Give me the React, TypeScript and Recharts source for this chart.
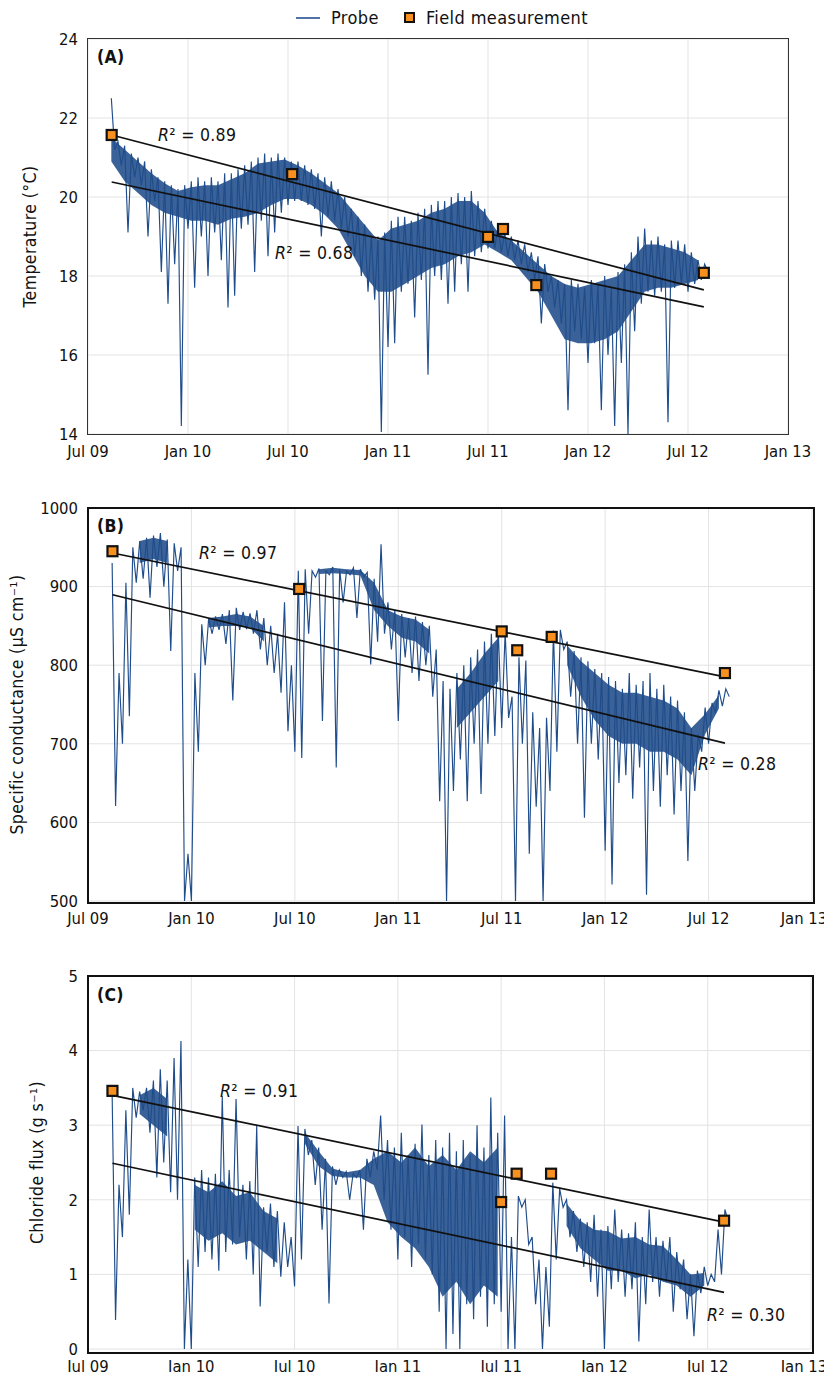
import React from "react";
import {
  ComposedChart,
  Line,
  Area,
  Scatter,
  XAxis,
  YAxis,
  CartesianGrid,
  ReferenceLine,
} from "recharts";

const FONT = "'Liberation Sans Narrow', 'DejaVu Sans Condensed', 'Arial Narrow', sans-serif";
const BLUE = "#1f4c8a";
const ORANGE = "#f7901e";

// x axis is months since Jul 2009
const monthTicks = [0, 6, 12, 18, 24, 30, 36, 42];
const monthLabels = ["Jul 09", "Jan 10", "Jul 10", "Jan 11", "Jul 11", "Jan 12", "Jul 12", "Jan 13"];

const probeStart = 1.4;
const probeStep = 0.4;
// dense core of the probe band, every 0.8 month (null = no band there)
const coreStart = 1.4;
const coreStep = 0.8;

const tempHi = [
  22.5, 21.4, 21.3, 21.1, 21.0, 20.9, 20.7, 20.5, 20.4, 20.3,
  20.2, 20.3, 20.4, 20.5, 20.4, 20.5, 20.4, 20.6, 20.6, 20.7,
  20.8, 20.9, 21.0, 21.1, 21.0, 21.1, 21.0, 20.9, 20.9, 20.8,
  20.7, 20.6, 20.5, 20.4, 20.2, 20.0, 19.7, 19.5, 19.3, 19.0,
  19.0, 19.1, 19.4, 19.5, 19.5, 19.4, 19.6, 19.7, 19.8, 19.9,
  19.9, 20.0, 20.1, 20.0, 20.15, 19.9, 19.7, 19.4, 19.25, 19.1,
  19.0, 18.9, 18.8, 18.6, 18.5, 18.3, 18.0, 17.9, 17.8, 17.9,
  17.8, 17.7, 17.9, 17.8, 18.0, 17.7, 18.1, 18.3, 18.6, 19.0,
  19.2, 18.9, 19.0, 18.8, 18.9, 18.9, 18.8, 18.6, 18.4, 18.3,
];
const tempLo = [
  21.2, 20.8, 19.1, 20.5, 20.3, 19.0, 19.9, 18.1, 17.3, 18.3,
  14.2, 19.2, 17.7, 19.0, 18.0, 19.1, 18.4, 17.2, 17.5, 19.2,
  19.3, 18.1, 19.4, 18.5, 19.1, 19.6, 19.8, 19.9, 19.9, 19.8,
  19.7, 19.0, 19.5, 19.4, 19.2, 19.0, 18.5, 18.0, 17.6, 17.4,
  14.05, 16.2, 16.3, 17.6, 17.8, 16.95, 17.9, 15.5, 18.0, 17.9,
  17.3, 17.6, 18.3, 17.6, 18.5, 18.6, 18.7, 18.7, 18.6, 18.5,
  18.4, 18.3, 18.1, 17.9, 16.8, 17.6, 17.2, 16.8, 14.6, 16.6,
  16.4, 15.8, 16.3, 14.6, 16.0, 14.2, 15.8, 14.0, 16.6, 17.3,
  17.6, 17.5, 17.6, 14.3, 17.7, 17.8, 17.6, 17.8, 17.9, 18.1,
];
const tempCoreHi = [
  21.5, 21.2, 20.9, 20.6, 20.35, 20.15, 20.25, 20.3, 20.3, 20.45,
  20.6, 20.85, 20.9, 20.95, 20.8, 20.6, 20.35, 20.1, 19.7, 19.3,
  18.9, 19.2, 19.3, 19.4, 19.6, 19.7, 19.9, 19.9, 19.6, 19.1,
  18.9, 18.6, 18.3, 18.0, 17.8, 17.7, 17.8, 17.9, 18.0, 18.4,
  18.8, 18.8, 18.7, 18.6, 18.4,
];
const tempCoreLo = [
  20.9, 20.4, 20.1, 19.8, 19.6, 19.5, 19.4, 19.4, 19.3, 19.45,
  19.5, 19.6, 19.8, 19.95, 19.95, 19.8, 19.55, 19.2, 18.6, 18.0,
  17.6, 17.6, 17.8, 18.0, 18.2, 18.3, 18.5, 18.6, 18.8, 18.6,
  18.4, 18.0, 17.6, 17.0, 16.4, 16.3, 16.3, 16.4, 16.6, 17.1,
  17.6, 17.7, 17.7, 17.8, 17.9,
];

const condHi = [
  930, 790, 905, 950, 958, 962, 965, 968, 960, 955,
  950, 560, 790, 852, 860, 862, 865, 870, 873, 868,
  866, 870, 860, 850, 840, 880, 800, 920, 922, 920,
  923, 920, 925, 922, 920, 924, 922, 918, 910, 954,
  880, 870, 865, 860, 862, 855, 850, 820, 780, 770,
  790, 800, 810, 820, 830, 840, 845, 843, 760, 810,
  806, 740, 720, 733, 844, 845, 830, 818, 810, 805,
  795, 790, 785, 780, 770, 790, 775, 780, 790, 770,
  775, 760, 755, 740, 720, 712, 746, 752, 768, 770,
];
const condLo = [
  621, 700, 735, 905, 910, 886, 925, 900, 818, 920,
  500, 500, 690, 800, 840, 845, 827, 755, 845, 846,
  840, 820, 800, 790, 765, 716, 690, 682, 840, 912,
  729, 915, 670, 880, 915, 860, 912, 801, 830, 840,
  820, 729, 810, 790, 780, 800, 760, 627, 500, 640,
  680, 627, 700, 636, 700, 710, 720, 733, 500, 700,
  560, 620, 500, 640, 690, 820, 760, 700, 606, 700,
  680, 564, 521, 650, 660, 630, 670, 508, 640, 620,
  660, 610, 640, 551, 640, 690, 700, 740, 748, 760,
];
const condCoreHi = [
  null, null, 958, 962, 958, null, null, 860, 862, 865,
  862, 850, null, null, null, 922, 924, 922, 921, 905,
  870, 862, 858, 845, null, 770, 790, 815, 835, null,
  null, null, null, 825, 805, 790, 775, 765, 765, 760,
  755, 745, 720, 738, 762,
];
const condCoreLo = [
  null, null, 930, 935, 930, null, null, 848, 850, 850,
  848, 830, null, null, null, 916, 917, 916, 914, 870,
  850, 835, 830, 815, null, 720, 740, 760, 780, null,
  null, null, null, 800, 760, 730, 710, 700, 700, 690,
  690, 680, 660, 712, 745,
];

const fluxHi = [
  3.45, 2.2, 3.2, 3.5, 3.45, 3.5, 3.6, 3.75, 3.6, 3.9,
  4.13, 1.2, 2.3, 2.4, 2.3, 2.35, 3.39, 2.4, 3.35, 2.2,
  2.25, 2.99, 1.9, 1.95, 1.85, 1.7, 1.5, 2.99, 2.95, 2.8,
  2.7, 2.55, 2.45, 2.4, 2.38, 2.35, 2.4, 2.55, 2.65, 3.13,
  2.8, 2.7, 2.9, 2.6, 2.75, 3.01, 2.6, 2.8, 2.7, 2.9,
  2.65, 2.8, 2.6, 3.0, 2.7, 3.37, 2.9, 3.13, 1.5, 2.05,
  2.0, 1.5, 1.2, 1.1, 2.23, 2.15, 2.0, 1.85, 1.75, 1.7,
  1.8, 1.6, 1.65, 1.87, 1.6, 1.55, 1.7, 1.5, 1.87, 1.5,
  1.45, 1.5, 1.3, 1.2, 1.0, 1.05, 1.1, 1.0, 1.6, 1.87,
];
const fluxLo = [
  0.39, 1.5, 1.8, 3.1, 3.2, 2.9, 2.3, 2.5, 2.1, 2.0,
  0.0, 0.0, 1.1, 1.3, 1.2, 1.05, 1.3, 1.4, 1.5, 1.2,
  1.0, 0.57, 1.3, 1.1, 0.97, 1.1, 0.84, 1.2, 2.6, 2.2,
  1.6, 0.61, 2.2, 2.3, 2.0, 2.3, 1.6, 2.3, 2.4, 2.0,
  1.6, 1.2, 1.5, 1.1, 1.4, 1.2, 1.0, 0.5, 0.0, 0.2,
  0.0, 0.6, 0.4, 0.7, 0.3, 0.6, 0.5, 0.0, 0.0, 1.9,
  1.4, 0.6, 0.0, 0.3, 1.2, 1.9, 1.5, 1.3, 1.1, 0.9,
  0.7, 0.0, 0.8, 0.9, 0.7, 0.8, 0.1, 0.6, 0.9, 0.7,
  0.9, 0.5, 0.8, 0.4, 0.17, 0.75, 0.85, 0.9, 1.0, 1.7,
];
const fluxCoreHi = [
  null, null, 3.4, 3.5, 3.35, null, 2.2, 2.1, 2.25, 2.05,
  2.1, 1.85, 1.75, null, 2.9, 2.65, 2.42, 2.37, 2.4, 2.55,
  2.65, 2.5, 2.7, 2.45, 2.6, 2.4, 2.65, 2.5, 2.7, null,
  null, null, null, 1.95, 1.72, 1.6, 1.58, 1.48, 1.5, 1.4,
  1.38, 1.2, 1.0, 1.02, null,
];
const fluxCoreLo = [
  null, null, 3.15, 3.0, 2.85, null, 1.6, 1.45, 1.55, 1.4,
  1.45, 1.3, 1.15, null, 2.75, 2.45, 2.32, 2.3, 2.3, 2.2,
  1.7, 1.5, 1.35, 1.1, 0.7, 0.9, 0.6, 0.85, 0.7, null,
  null, null, null, 1.65, 1.35, 1.2, 1.05, 1.05, 0.95, 1.0,
  0.9, 0.85, 0.7, 0.85, null,
];

// field measurements
const fieldMonths = [1.42, 12.25, 24.0, 24.9, 26.9, 36.95];
const fieldTemp = [21.57, 20.58, 18.99, 19.19, 17.77, 18.08];
const fieldCond = [945, 897, 843, 819, 836, 790];
const fieldFlux = [3.46, null, 1.97, 2.35, 2.35, 1.72];

// linear trend end points (field fit, probe fit)
const trendMonths = [1.42, 36.95];
const tempFieldTrend = [21.57, 17.65];
const tempProbeTrend = [20.38, 17.22];
const condFieldTrend = [942.7, 785.2];
const condProbeTrend = [889.6, 700.8];
const fluxFieldTrend = [3.4, 1.7];
const fluxProbeTrend = [2.49, 0.76];

function probeRows(hi: number[], lo: number[]) {
  return hi.flatMap((h, i) => [
    { t: probeStart + i * probeStep, v: h },
    { t: probeStart + i * probeStep + probeStep / 2, v: lo[i] },
  ]);
}

function coreRows(hi: (number | null)[], lo: (number | null)[]) {
  return hi.map((h, i) => ({ t: coreStart + i * coreStep, hi: h, lo: lo[i] }));
}

function fieldRows(vals: (number | null)[]) {
  return fieldMonths
    .map((t, i) => ({ t, v: vals[i] }))
    .filter((d) => d.v != null);
}

const FieldSquare = (props: any) => {
  const { cx, cy } = props;
  if (cx == null || cy == null) return null;
  return (
    <rect x={cx - 5} y={cy - 5} width={10} height={10} fill={ORANGE} stroke="#111" strokeWidth={2.2} />
  );
};

const tickStyle = { fontFamily: FONT, fontSize: 16.5, fill: "#111" };

// x tick that keeps the last label inside the page
const MonthTick = (props: any) => {
  const { x, y, payload } = props;
  const label = monthLabels[monthTicks.indexOf(payload.value)];
  const cx = Math.min(x, 830 - 26);
  return (
    <text x={cx} y={y} dy="0.71em" textAnchor="middle" {...tickStyle}>
      {label}
    </text>
  );
};

function Panel({
  top, height, margin, hi, lo, coreHi, coreLo, domain, yTicks, field, fieldTrend, probeTrend, ylabel, labelX,
}: any) {
  const seg = (vals: number[]) => [
    { x: trendMonths[0], y: vals[0] },
    { x: trendMonths[1], y: vals[1] },
  ];
  return (
    <div style={{ position: "absolute", left: 0, top }}>
      <ComposedChart width={832} height={height} margin={margin}>
        <CartesianGrid stroke="#e3e3e3" strokeWidth={1} />
        <XAxis
          dataKey="t"
          type="number"
          domain={[0, 42]}
          ticks={monthTicks}
          interval={0}
          tick={<MonthTick />}
          tickLine={false}
          axisLine={false}
          tickSize={4}
          tickMargin={7}
          height={30}
          allowDataOverflow
        />
        <YAxis
          type="number"
          domain={domain}
          ticks={yTicks}
          interval={0}
          tick={tickStyle}
          tickLine={false}
          axisLine={false}
          tickSize={4}
          tickMargin={6}
          width={88}
          allowDataOverflow
          label={{
            value: ylabel,
            angle: -90,
            position: "insideLeft",
            offset: labelX,
            style: { textAnchor: "middle", fontFamily: FONT, fontSize: 17.5, fill: "#111", letterSpacing: 0.4 },
          }}
        />
        <Area
          data={coreRows(coreHi, coreLo)}
          dataKey={(d: any) => (d.hi == null || d.lo == null ? null : [d.lo, d.hi])}
          type="linear"
          stroke="none"
          fill={BLUE}
          fillOpacity={0.88}
          isAnimationActive={false}
        />
        <Line
          data={probeRows(hi, lo)}
          dataKey="v"
          type="linear"
          stroke={BLUE}
          strokeWidth={1.15}
          dot={false}
          isAnimationActive={false}
        />
        <ReferenceLine segment={seg(fieldTrend)} stroke="#111" strokeWidth={1.7} />
        <ReferenceLine segment={seg(probeTrend)} stroke="#111" strokeWidth={1.7} />
        <Scatter data={fieldRows(field)} dataKey="v" shape={FieldSquare} isAnimationActive={false} />
      </ComposedChart>
    </div>
  );
}

const txt: React.CSSProperties = {
  position: "absolute",
  fontFamily: FONT,
  fontSize: 17.5,
  color: "#111",
  whiteSpace: "nowrap",
  lineHeight: 1,
  letterSpacing: 0.3,
};

function R2({ left, top, value }: { left: number; top: number; value: string }) {
  return (
    <div style={{ ...txt, left, top }}>
      <i>R</i>² = {value}
    </div>
  );
}

function Frame({ left, top, width, height, bw, color }: any) {
  return (
    <div
      style={{
        position: "absolute",
        left: left - bw / 2,
        top: top - bw / 2,
        width,
        height,
        border: `${bw}px solid ${color}`,
        pointerEvents: "none",
      }}
    />
  );
}

export default function App() {
  return (
    <div style={{ position: "relative", width: 832, height: 1380, margin: -8, background: "#fff", overflow: "hidden" }}>
      <Panel
        top={0}
        height={470}
        margin={{ top: 39, right: 44, bottom: 6, left: 0 }}
        hi={tempHi}
        lo={tempLo}
        coreHi={tempCoreHi}
        coreLo={tempCoreLo}
        domain={[14, 24]}
        yTicks={[14, 16, 18, 20, 22, 24]}
        field={fieldTemp}
        fieldTrend={tempFieldTrend}
        probeTrend={tempProbeTrend}
        ylabel="Temperature (°C)"
        labelX={30}
      />
      <Panel
        top={470}
        height={465}
        margin={{ top: 38, right: 20, bottom: 4, left: 0 }}
        hi={condHi}
        lo={condLo}
        coreHi={condCoreHi}
        coreLo={condCoreLo}
        domain={[500, 1000]}
        yTicks={[500, 600, 700, 800, 900, 1000]}
        field={fieldCond}
        fieldTrend={condFieldTrend}
        probeTrend={condProbeTrend}
        ylabel="Specific conductance (µS cm⁻¹)"
        labelX={17}
      />
      <Panel
        top={935}
        height={445}
        margin={{ top: 41, right: 21, bottom: 1, left: 0 }}
        hi={fluxHi}
        lo={fluxLo}
        coreHi={fluxCoreHi}
        coreLo={fluxCoreLo}
        domain={[0, 5]}
        yTicks={[0, 1, 2, 3, 4, 5]}
        field={fieldFlux}
        fieldTrend={fluxFieldTrend}
        probeTrend={fluxProbeTrend}
        ylabel="Chloride flux (g s⁻¹)"
        labelX={37}
      />

      <Frame left={88} top={39} width={700} height={395} bw={1.4} color="#333" />
      <Frame left={88} top={508} width={724} height={393} bw={2.6} color="#111" />
      <Frame left={88} top={976} width={723} height={375} bw={2.6} color="#111" />

      <div style={{ ...txt, left: 97, top: 49, fontWeight: "bold" }}>(A)</div>
      <div style={{ ...txt, left: 97, top: 518, fontWeight: "bold" }}>(B)</div>
      <div style={{ ...txt, left: 97, top: 987, fontWeight: "bold" }}>(C)</div>

      <R2 left={158} top={127} value="0.89" />
      <R2 left={275} top={245} value="0.68" />
      <R2 left={199} top={545} value="0.97" />
      <R2 left={698} top={756} value="0.28" />
      <R2 left={220} top={1083} value="0.91" />
      <R2 left={707} top={1307} value="0.30" />

      {/* legend */}
      <div style={{ position: "absolute", left: 296, top: 7, display: "flex", alignItems: "center", fontFamily: FONT, fontSize: 18, color: "#111", letterSpacing: 0.4 }}>
        <span style={{ display: "inline-block", width: 24, height: 2, background: "#4f73a6", marginRight: 11 }} />
        <span>Probe</span>
        <span style={{ display: "inline-block", width: 7, height: 7, background: ORANGE, border: "2px solid #111", marginLeft: 25, marginRight: 11 }} />
        <span>Field measurement</span>
      </div>
    </div>
  );
}
